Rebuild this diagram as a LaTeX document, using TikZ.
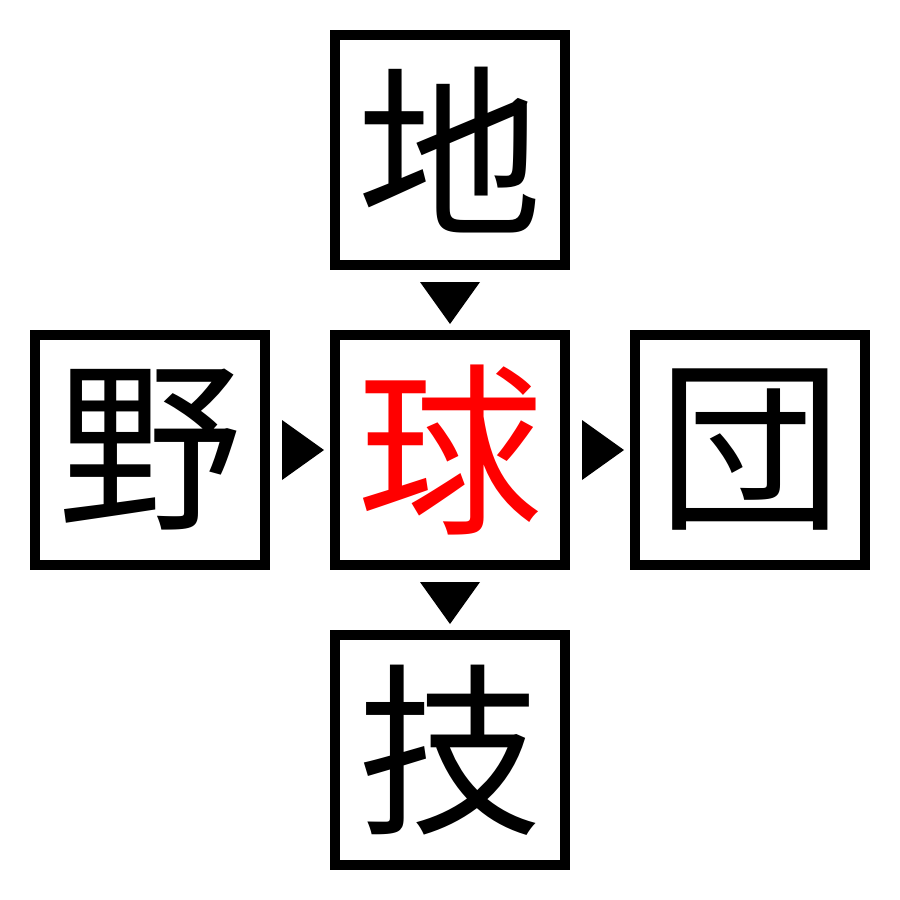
\documentclass[tikz,border=0pt]{standalone}
\usepackage{fontspec}
\newfontfamily\cjk{Noto Sans CJK JP}
\begin{document}
\begin{tikzpicture}[x=1pt,y=-1pt,
  kbox/.style={draw=black,line width=10pt,minimum size=230pt,inner sep=0pt,outer sep=0pt,
    font=\cjk\fontsize{185}{185}\selectfont},
  tri/.style={fill=black,draw=none}]
\useasboundingbox[fill=white] (0,0) rectangle (900,900);
\node[kbox] (top) at (450,150) {地};
\node[kbox] (left) at (150,450) {野};
\node[kbox,text=red] (mid) at (450,450) {球};
\node[kbox] (right) at (750,450) {団};
\node[kbox] (bot) at (450,750) {技};
\coordinate (t1) at (450,303);
\coordinate (t2) at (450,603);
\coordinate (l1) at (303,450);
\coordinate (r1) at (603,450);
\fill[tri] ([shift={(-30,-21)}]t1) -- ([shift={(30,-21)}]t1) -- ([shift={(0,21)}]t1) -- cycle;
\fill[tri] ([shift={(-30,-21)}]t2) -- ([shift={(30,-21)}]t2) -- ([shift={(0,21)}]t2) -- cycle;
\fill[tri] ([shift={(-21,-30)}]l1) -- ([shift={(-21,30)}]l1) -- ([shift={(21,0)}]l1) -- cycle;
\fill[tri] ([shift={(-21,-30)}]r1) -- ([shift={(-21,30)}]r1) -- ([shift={(21,0)}]r1) -- cycle;
\end{tikzpicture}
\end{document}
